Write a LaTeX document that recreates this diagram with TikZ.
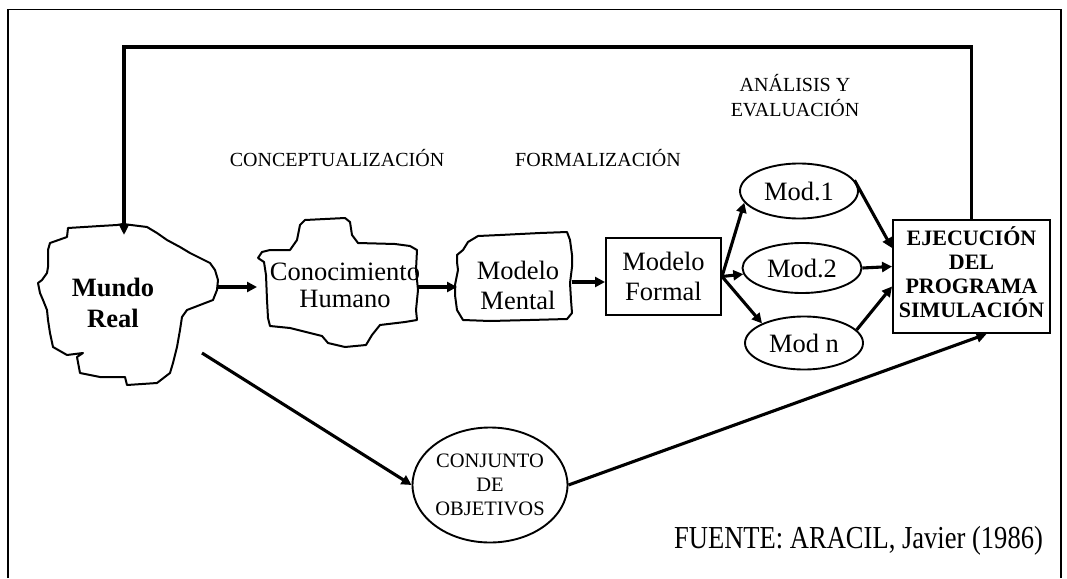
\documentclass[tikz,border=0pt]{standalone}
\usepackage{fontspec}
\setmainfont{Liberation Serif}
\usepackage{graphicx}
\usetikzlibrary{arrows.meta,shapes.geometric}
\begin{document}
\begin{tikzpicture}[x=1pt,y=-1pt,
  conn/.style={line width=3.1pt,-{Triangle[length=10pt,width=10pt]}},
  feed/.style={line width=3.3pt,-{Triangle[length=11pt,width=10pt]}},
  blob/.style={line width=2pt,line join=round},
  frame/.style={line width=1.4pt},
  box/.style={draw,line width=2pt,inner sep=0pt},
  oval/.style={ellipse,draw,line width=1.9pt,inner sep=0pt},
  txt/.style={inner sep=0pt,align=center},
  nodefont/.style={font=\fontsize{26.5}{30}\selectfont},
  lblfont/.style={font=\fontsize{20}{25}\selectfont}
]
\useasboundingbox (0,0) rectangle (1067,578);
% frame
\draw[frame] (8,578) -- (8,9.5) -- (1061,9.5) -- (1061,578);

% Mundo Real blob
\draw[blob] (68,228) -- (100,226) -- (117,225) -- (123,224) -- (147,227) -- (157,233) -- (167,240) -- (180,247) -- (190,253) -- (200,258) -- (210,263) -- (215,270) -- (218,280) -- (217,290) -- (213,300) -- (200,305) -- (187,310) -- (182,317) -- (180,330) -- (177,347) -- (173,363) -- (170,373) -- (157,383) -- (127,385) -- (125,377) -- (100,377) -- (80,373) -- (77,357) -- (83,353) -- (67,355) -- (53,347) -- (50,333) -- (48,320) -- (47,310) -- (43,300) -- (40,293) -- (38,283) -- (42,280) -- (47,273) -- (48,267) -- (48,250) -- (50,243) -- (67,237) -- cycle;
\node[txt,font=\bfseries\fontsize{26.5}{31}\selectfont] (mundo) at (113,303) {Mundo\\Real};

% Conocimiento Humano blob
\draw[blob] (262,252) -- (270,250) -- (290,250) -- (297,240) -- (300,225) -- (305,220) -- (345,218) -- (350,222) -- (352,235) -- (358,243) -- (395,244) -- (410,246) -- (417,250) -- (416,270) -- (418,290) -- (416,310) -- (417,320) -- (405,322) -- (380,325) -- (372,335) -- (366,345) -- (345,347) -- (328,343) -- (322,336) -- (310,333) -- (290,328) -- (270,326) -- (268,318) -- (267,300) -- (266,275) -- (264,262) -- (258,258) -- cycle;
\node[txt,font=\fontsize{26.5}{27}\selectfont] (conoc) at (345,285) {Conocimiento\\Humano};

% Modelo Mental blob
\draw[blob] (457,255) -- (463,250) -- (468,242) -- (478,236) -- (500,235) -- (540,233) -- (567,232) -- (570,240) -- (572,255) -- (572,267) -- (570,283) -- (571,300) -- (572,313) -- (567,319) -- (530,320) -- (490,321) -- (463,320) -- (457,310) -- (455,295) -- (455,285) -- (458,270) -- (457,262) -- cycle;
\node[txt,nodefont] (mental) at (518,285) {Modelo\\Mental};

% blob edge points
\coordinate (mundoE) at (218,287);
\coordinate (mundoSE) at (202,353);
\coordinate (mundoN) at (124,235);
\coordinate (conocW) at (257,287);
\coordinate (conocE) at (417,287);
\coordinate (mentalW) at (457,287);
\coordinate (mentalE) at (572,282);
\coordinate (loopL) at (124,47);

% Modelo Formal
\node[box,nodefont,minimum width=115pt,minimum height=77pt,align=center] (formal) at (663.5,276.5) {Modelo\\Formal};

% Models
\node[oval,nodefont,minimum width=118pt,minimum height=55pt] (mod1) at (799,191) {Mod.1};
\node[oval,nodefont,minimum width=119pt,minimum height=50pt] (mod2) at (802,268) {Mod.2};
\node[oval,nodefont,minimum width=118pt,minimum height=53pt] (modn) at (804,343) {Mod n};

% Ejecucion
\node[box,minimum width=157pt,minimum height=113pt] (ejec) at (971.5,276.5) {};
\node[txt,font=\bfseries\fontsize{22}{24}\selectfont] (ejectxt) at (971.5,272) {EJECUCIÓN\\DEL\\PROGRAMA\\SIMULACIÓN};

% Conjunto de objetivos
\node[oval,minimum width=155pt,minimum height=115pt,align=center,font=\fontsize{20.5}{24}\selectfont] (conj) at (490,485) {CONJUNTO\\DE\\OBJETIVOS};

% labels
\node[txt,lblfont] (lconc) at (337,158) {CONCEPTUALIZACIÓN};
\node[txt,lblfont] (lform) at (598,158) {FORMALIZACIÓN};
\node[txt,font=\fontsize{20}{25}\selectfont] (lanal) at (795,96) {ANÁLISIS Y\\EVALUACIÓN};
\node[txt,font=\fontsize{32}{34}\selectfont] (fuente) at (858.5,541) {\scalebox{0.83}[1]{FUENTE: ARACIL, Javier (1986)}};

% connectors
\draw[conn] (mundoE) -- (conocW);
\draw[conn] (conocE) -- (mentalW);
\draw[conn] (mentalE) -- (formal.west |- mentalE);
\draw[conn] (formal.east) -- (mod1.192);
\draw[conn] (formal.east) -- (mod2.186);
\draw[conn] (formal.east) -- (modn.155);
\draw[conn] (mod1.11) -- ([yshift=28.5pt]ejec.west);
\draw[conn] (mod2.east) -- ([yshift=10pt]ejec.west);
\draw[conn] (modn.14) -- ([yshift=-10pt]ejec.west);
\draw[conn] (mundoSE) -- (conj.west);
\draw[conn] (conj.east) -- ([xshift=15pt]ejec.south);
\draw[feed] (ejec.north) |- (loopL) -- (mundoN);
\end{tikzpicture}
\end{document}
